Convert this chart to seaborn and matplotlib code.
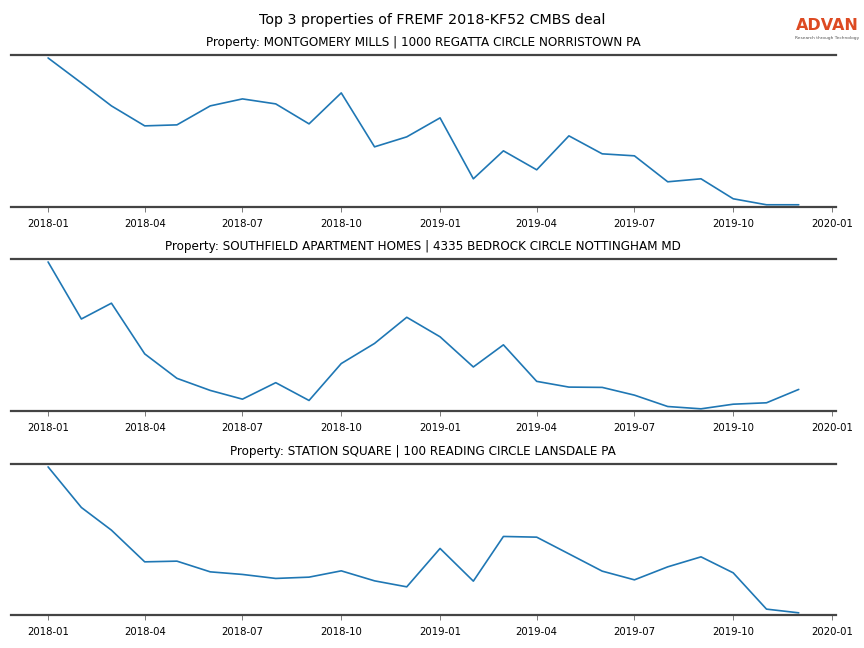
import matplotlib
matplotlib.use("Agg")
import matplotlib.pyplot as plt
import matplotlib.dates as mdates
import seaborn as sns
import pandas as pd

sns.set_style("white")
plt.rcParams['font.family'] = ['DejaVu Sans']
plt.rcParams['text.color'] = 'black'
plt.rcParams['xtick.color'] = 'black'
plt.rcParams['axes.titlecolor'] = 'black'

months = pd.date_range("2018-01-01", "2019-12-01", freq="MS")

titles = [
    "Property: MONTGOMERY MILLS | 1000 REGATTA CIRCLE NORRISTOWN PA",
    "Property: SOUTHFIELD APARTMENT HOMES | 4335 BEDROCK CIRCLE NOTTINGHAM MD",
    "Property: STATION SQUARE | 100 READING CIRCLE LANSDALE PA",
]

visits_montgomery = [149, 124, 101, 81, 82, 101, 108, 103, 83, 114, 60, 70,
                     89, 28, 56, 37, 71, 53, 51, 25, 28, 8, 2, 2]
visits_southfield = [148.7, 92, 107.7, 57.3, 33, 21, 12.3, 28.7, 11, 47.7, 67.7, 93.7,
                     74.3, 44.3, 66.3, 30, 24.3, 24, 16.3, 5, 2.7, 7.3, 8.7, 22]
visits_station = [148.3, 107.7, 85, 53.3, 54, 43.3, 40.7, 36.7, 38, 44.3, 34.3, 28.3,
                  66.7, 34, 78.7, 78, 61.3, 44, 35.3, 48.3, 58.3, 42.3, 6, 2.3]

series = [visits_montgomery, visits_southfield, visits_station]

fig = plt.figure(figsize=(8.64, 6.48), dpi=100)
boxes = [(0.0122, 0.6806, 0.9557, 0.2345),
         (0.0122, 0.3657, 0.9557, 0.2346),
         (0.0122, 0.0509, 0.9557, 0.2331)]

for box, title, vals in zip(boxes, titles, series):
    ax = fig.add_axes(box)
    df = pd.DataFrame({"month": months, "visits": vals})
    sns.lineplot(data=df, x="month", y="visits", ax=ax, color="#1f77b4", linewidth=1.2)
    lo, hi = min(vals), max(vals)
    rng = hi - lo
    ax.set_ylim(lo - 0.015 * rng, hi + 0.02 * rng)
    ax.set_title(title, fontsize=8.65, pad=6.8, color="black")
    ax.set_xlabel("")
    ax.set_ylabel("")
    ax.set_yticks([])
    ax.xaxis.set_major_locator(mdates.MonthLocator(bymonth=[1, 4, 7, 10]))
    ax.xaxis.set_major_formatter(mdates.DateFormatter("%Y-%m"))
    ax.tick_params(axis="x", labelsize=7.3, length=3.5, width=0.6, color="#666666",
                   labelcolor="black", pad=5, bottom=True)
    for s in ["left", "right"]:
        ax.spines[s].set_visible(False)
    for s in ["top", "bottom"]:
        ax.spines[s].set_visible(True)
        ax.spines[s].set_color("#444444")
        ax.spines[s].set_linewidth(1.6)

fig.text(0.5, 0.969, "Top 3 properties of FREMF 2018-KF52 CMBS deal", ha="center", va="center",
         fontsize=10.3, color="black")
fig.text(0.9572, 0.960, "ADVAN", ha="center", va="center", fontsize=11.5, color="#DD4A22",
         fontweight="bold")
fig.text(0.9572, 0.941, "Research through Technology", ha="center", va="center", fontsize=3.2,
         color="#555555")

fig.savefig("out.png", dpi=100)
